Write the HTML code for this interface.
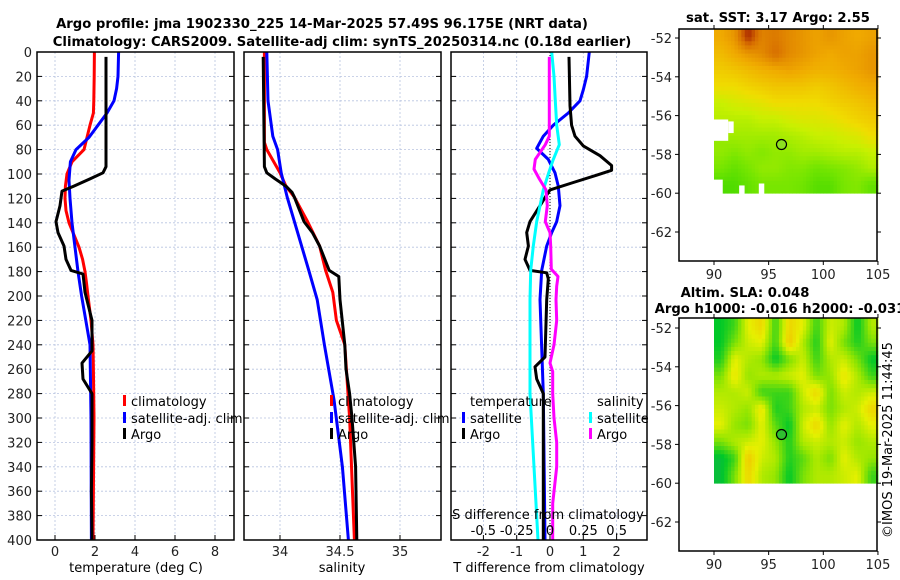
<!DOCTYPE html>
<html><head><meta charset="utf-8">
<style>
html,body{margin:0;padding:0;background:#fff;}
svg{display:block;font-family:"DejaVu Sans","Liberation Sans",sans-serif;}
</style></head>
<body>
<svg id="fig" width="900" height="580" viewBox="0 0 900 580" xmlns="http://www.w3.org/2000/svg">
<text x="322" y="28" text-anchor="middle" font-size="13.2" font-weight="bold">Argo profile: jma 1902330_225 14-Mar-2025 57.49S 96.175E (NRT data)</text>
<text x="342" y="46" text-anchor="middle" font-size="13.2" font-weight="bold">Climatology: CARS2009. Satellite-adj clim: synTS_20250314.nc (0.18d earlier)</text>
<text x="778" y="22" text-anchor="middle" font-size="13.2" font-weight="bold">sat. SST: 3.17 Argo: 2.55</text>
<text x="745" y="297" text-anchor="middle" font-size="13.2" font-weight="bold">Altim. SLA: 0.048</text>
<text x="780" y="313" text-anchor="middle" font-size="13.2" font-weight="bold">Argo h1000: -0.016 h2000: -0.031</text>
<text transform="translate(892,440) rotate(-90)" text-anchor="middle" font-size="13">©IMOS 19-Mar-2025 11:44:45</text>
<g id="plots"></g>
</svg>
<script>
// ---------- data ----------
const depthTicks = [0,20,40,60,80,100,120,140,160,180,200,220,240,260,280,300,320,340,360,380,400];
const tempTicks = [0,2,4,6,8];
const salTicks = [34,34.5,35];
const tdiffTicks = [-2,-1,0,1,2];
const sdiffTicks = [-0.5,-0.25,0,0.25,0.5];
const sdiffTickLabels = ["-0.5","-0.25","0","0.25","0.5"];

const climTDepth = [0,20,40,50,60,70,80,90,100,110,120,130,140,150,160,170,180,190,200,220,240,260,300,340,400];
const climTVal   = [1.97,1.96,1.94,1.92,1.75,1.6,1.45,0.85,0.6,0.52,0.5,0.55,0.7,0.95,1.2,1.38,1.5,1.58,1.65,1.8,1.9,1.92,1.95,1.93,1.9];
const satTDepth = [0,20,30,40,50,60,70,80,90,105,120,140,160,180,200,240,300,400];
const satTVal   = [3.18,3.15,3.08,2.95,2.6,2.15,1.7,1.05,0.77,0.7,0.75,0.85,1.0,1.15,1.33,1.75,1.8,1.82];
const argoTDepth = [4,40,80,94,99,104,110,114,126,139,148,159,170,179,182,197,220,245,255,268,280,320,360,400];
const argoTVal   = [2.55,2.55,2.55,2.55,2.4,1.75,0.93,0.35,0.25,0.05,0.15,0.45,0.55,0.8,1.4,1.5,1.85,1.85,1.35,1.4,1.85,1.85,1.82,1.85];

const climSDepth = [0,40,74,80,99,110,119,139,159,179,197,220,240,300,400];
const climSVal   = [33.87,33.87,33.87,33.89,34.0,34.05,34.12,34.23,34.33,34.38,34.44,34.47,34.54,34.58,34.62];
const satSDepth = [0,40,69,80,99,119,139,179,203,240,285,340,400];
const satSVal   = [33.89,33.9,33.94,33.98,34.01,34.06,34.12,34.24,34.31,34.37,34.45,34.52,34.57];
const argoSDepth = [4,94,99,104,110,115,119,139,148,159,179,184,203,240,260,280,300,340,400];
const argoSVal   = [33.86,33.87,33.89,33.96,34.05,34.1,34.12,34.2,34.27,34.33,34.41,34.49,34.5,34.54,34.55,34.58,34.6,34.63,34.64];

const satTdDepth = [0,20,31,40,50,60,69,79,88,99,110,126,139,148,159,179,203,280,400];
const satTdVal   = [1.18,1.1,1.0,0.9,0.55,0.1,-0.2,-0.4,-0.05,0.15,0.25,0.3,0.2,0.05,-0.1,-0.25,-0.3,-0.2,-0.15];
const argoTdDepth = [4,44,60,69,77,85,93,97,101,107,113,118,126,139,148,159,170,179,181,186,203,250,258,268,280,340,400];
const argoTdVal   = [0.57,0.6,0.65,0.75,1.0,1.5,1.85,1.85,1.4,0.7,0.0,-0.12,-0.3,-0.6,-0.7,-0.65,-0.75,-0.6,-0.1,-0.05,-0.1,-0.15,-0.45,-0.4,-0.2,-0.2,-0.2];
const satSdDepth = [0,20,40,60,76,88,99,113,139,159,179,203,280,340,400];
const satSdVal   = [0.013,0.03,0.04,0.05,0.07,0.025,-0.01,-0.05,-0.1,-0.125,-0.145,-0.15,-0.15,-0.12,-0.09];
const argoSdDepth = [4,69,76,88,96,104,113,126,139,148,159,178,184,192,203,220,240,255,262,280,300,320,340,370,400];
const argoSdVal   = [-0.005,-0.005,-0.035,-0.11,-0.12,-0.08,-0.03,-0.02,-0.035,0.0,0.005,0.01,0.06,0.05,0.045,0.05,0.03,0.0,0.02,0.02,0.03,0.05,0.05,0.02,0.02];

const latTicks = [-52,-54,-56,-58,-60,-62];
const lonTicks = [90,95,100,105];
const argoLon = 96.175, argoLat = -57.49;
const sstGrid = [
 [0.7,0.75,0.95,0.8,0.82,0.78,0.75,0.72,0.75,0.72,0.7,0.72],
 [0.65,0.7,0.75,0.78,0.85,0.78,0.75,0.72,0.7,0.72,0.72,0.75],
 [0.6,0.62,0.65,0.68,0.7,0.72,0.7,0.68,0.68,0.7,0.72,0.75],
 [0.55,0.55,0.58,0.6,0.62,0.62,0.62,0.6,0.62,0.65,0.68,0.7],
 [0.45,0.48,0.5,0.52,0.55,0.55,0.55,0.55,0.58,0.6,0.62,0.65],
 [0.42,0.42,0.42,0.45,0.45,0.48,0.5,0.5,0.52,0.55,0.58,0.6],
 [null,0.38,0.38,0.38,0.38,0.4,0.42,0.45,0.45,0.48,0.5,0.55],
 [0.35,0.32,0.35,0.32,0.35,0.35,0.38,0.38,0.4,0.42,0.42,0.45],
 [0.3,0.25,0.3,0.35,0.35,0.32,0.32,0.28,0.3,0.32,0.35,0.4],
 [0.2,0.2,0.25,0.3,0.3,0.3,0.28,0.22,0.22,0.3,0.32,0.25]];
const slaGrid = [
 [0.2,0.3,0.6,0.7,0.3,0.7,0.6,0.3,0.55,0.5,0.2,0.5],
 [0.2,0.4,0.55,0.6,0.3,0.75,0.5,0.25,0.6,0.4,0.25,0.4],
 [0.25,0.6,0.5,0.45,0.2,0.4,0.55,0.3,0.5,0.55,0.4,0.2],
 [0.4,0.65,0.45,0.5,0.5,0.55,0.6,0.4,0.45,0.65,0.5,0.3],
 [0.5,0.5,0.55,0.3,0.3,0.3,0.55,0.7,0.4,0.55,0.5,0.55],
 [0.55,0.5,0.45,0.65,0.25,0.3,0.5,0.55,0.4,0.5,0.55,0.7],
 [0.6,0.45,0.4,0.6,0.35,0.2,0.55,0.7,0.45,0.6,0.5,0.6],
 [0.4,0.5,0.55,0.6,0.45,0.25,0.5,0.55,0.5,0.55,0.45,0.5],
 [0.15,0.3,0.75,0.55,0.5,0.25,0.35,0.5,0.4,0.6,0.5,0.45],
 [0.15,0.4,0.7,0.5,0.45,0.2,0.4,0.5,0.5,0.55,0.6,0.3]];
// missing-data boxes in SST map: [lonMin, lonMax, latTop, latBottom]
const sstMissing = [[90,91.3,-56.2,-57.3],[91.3,91.8,-56.3,-56.9],[90,90.8,-59.3,-60.1],[92.3,92.8,-59.6,-60.1],[94.1,94.6,-59.5,-60.1]];

// ---------- drawing ----------
const NS="http://www.w3.org/2000/svg";
const root=document.getElementById('plots');
function mk(tag,attrs,parent){const e=document.createElementNS(NS,tag);for(const k in attrs)e.setAttribute(k,attrs[k]);(parent||root).appendChild(e);return e;}
function txt(s,attrs,parent){const e=mk('text',attrs,parent);e.textContent=s;return e;}

const TOP=52,BOT=540;
const yD=d=>TOP+(BOT-TOP)*d/400;

function panel(name,x0,x1,xs,ticks,labels,showY){
  const g=mk('g',{});
  
  
  depthTicks.forEach(d=>{
    const l=mk('line',{x1:x0,x2:x1,y1:yD(d),y2:yD(d),stroke:'#b8c4e0','stroke-width':0.8,'stroke-dasharray':'2,2'},g);
    
    
    mk('line',{x1:x0,x2:x0+5,y1:yD(d),y2:yD(d),stroke:'#000'},g);
    mk('line',{x1:x1-5,x2:x1,y1:yD(d),y2:yD(d),stroke:'#000'},g);
    if(showY){const t=txt(String(d),{x:x0-5,y:yD(d)+5,'text-anchor':'end','font-size':13,fill:'#222'},g);
      
      }
  });
  ticks.forEach((v,i)=>{
    const l=mk('line',{x1:xs(v),x2:xs(v),y1:TOP,y2:BOT,stroke:'#b8c4e0','stroke-width':0.8,'stroke-dasharray':'2,2'},g);
    
    
    mk('line',{x1:xs(v),x2:xs(v),y1:BOT,y2:BOT-5,stroke:'#000'},g);
    if(labels){const t=txt(labels[i],{x:xs(v),y:556,'text-anchor':'middle','font-size':13,fill:'#222'},g);
      
      }
  });
  return g;
}
function line(g,name,ds,vs,xs,color){
  const p=ds.map((d,i)=>(i?'L':'M')+xs(vs[i]).toFixed(1)+','+yD(d).toFixed(1)).join(' ');
  const e=mk('path',{d:p,fill:'none',stroke:color,'stroke-width':3,'stroke-linejoin':'round'},g);
  
  
}
function frame(g,x0,x1){const r=mk('rect',{x:x0,y:TOP,width:x1-x0,height:BOT-TOP,fill:'none',stroke:'#000','stroke-width':1.5},g);
  
  }
function legendEntry(g,x,y,color,label){
  const e=mk('g',{},g);
  
  
  mk('rect',{x:x,y:y-10,width:3,height:11,fill:color},e);
  txt(label,{x:x+8,y:y+1,'font-size':13},e);
}

// Panel 1: temperature
const xT=v=>55+20*v;
const g1=panel('temperature-panel',37,234,xT,tempTicks,tempTicks.map(String),true);
line(g1,'climatology-temperature-line',climTDepth,climTVal,xT,'#f00');
line(g1,'satellite-temperature-line',satTDepth,satTVal,xT,'#00f');
line(g1,'argo-temperature-line',argoTDepth,argoTVal,xT,'#000');
frame(g1,37,234);
legendEntry(g1,123,405,'#f00','climatology');
legendEntry(g1,123,422,'#00f','satellite-adj. clim');
legendEntry(g1,123,438,'#000','Argo');
txt('temperature (deg C)',{x:136,y:572,'text-anchor':'middle','font-size':13},g1);

// Panel 2: salinity
const xS=v=>280+120*(v-34);
const g2=panel('salinity-panel',244,441,xS,salTicks,salTicks.map(String),false);
line(g2,'climatology-salinity-line',climSDepth,climSVal,xS,'#f00');
line(g2,'satellite-salinity-line',satSDepth,satSVal,xS,'#00f');
line(g2,'argo-salinity-line',argoSDepth,argoSVal,xS,'#000');
frame(g2,244,441);
legendEntry(g2,330,405,'#f00','climatology');
legendEntry(g2,330,422,'#00f','satellite-adj. clim');
legendEntry(g2,330,438,'#000','Argo');
txt('salinity',{x:342,y:572,'text-anchor':'middle','font-size':13},g2);

// Panel 3: differences
const xTd=v=>550+33.3*v;
const xSd=v=>550+133.3*v;
const g3=panel('difference-panel',451,647,xTd,tdiffTicks,tdiffTicks.map(String),false);
mk('line',{x1:550,x2:550,y1:TOP,y2:BOT,stroke:'#000','stroke-width':1,'stroke-dasharray':'1,2'},g3);
line(g3,'satellite-tdiff-line',satTdDepth,satTdVal,xTd,'#00f');
line(g3,'argo-tdiff-line',argoTdDepth,argoTdVal,xTd,'#000');
line(g3,'satellite-sdiff-line',satSdDepth,satSdVal,xSd,'#0ff');
line(g3,'argo-sdiff-line',argoSdDepth,argoSdVal,xSd,'#f0f');
frame(g3,451,647);
sdiffTicks.forEach((v,i)=>{const t=txt(sdiffTickLabels[i],{x:xSd(v),y:535,'text-anchor':'middle','font-size':13},g3);
  
  });
txt('S difference from climatology',{x:548,y:519,'text-anchor':'middle','font-size':13},g3);
txt('T difference from climatology',{x:549,y:572,'text-anchor':'middle','font-size':13},g3);
txt('temperature',{x:470,y:406,'font-size':13},g3);
legendEntry(g3,462,422,'#00f','satellite');
legendEntry(g3,462,438,'#000','Argo');
txt('salinity',{x:597,y:406,'font-size':13},g3);
legendEntry(g3,589,422,'#0ff','satellite');
legendEntry(g3,589,438,'#f0f','Argo');

// ---------- maps ----------
function lerpColor(stops,v){
  for(let i=1;i<stops.length;i++){if(v<=stops[i][0]||i===stops.length-1){const a=stops[i-1],b=stops[i];let t=(v-a[0])/(b[0]-a[0]);t=Math.max(0,Math.min(1,t));
    return 'rgb('+[1,2,3].map(k=>Math.round(a[k]+(b[k]-a[k])*t)).join(',')+')';}}
}
function sample(grid,fr,fc){
  const nr=grid.length,nc=grid[0].length;
  const r=Math.max(0,Math.min(nr-1,fr-0.5)),c=Math.max(0,Math.min(nc-1,fc-0.5));
  const r0=Math.floor(r),c0=Math.floor(c),r1=Math.min(nr-1,r0+1),c1=Math.min(nc-1,c0+1);
  const tr=r-r0,tc=c-c0;
  const g=(a,b)=>grid[a][b]===null?null:grid[a][b];
  const v00=g(r0,c0),v01=g(r0,c1),v10=g(r1,c0),v11=g(r1,c1);
  const vals=[[v00,(1-tr)*(1-tc)],[v01,(1-tr)*tc],[v10,tr*(1-tc)],[v11,tr*tc]];
  let s=0,w=0;vals.forEach(([v,k])=>{if(v!==null){s+=v*k;w+=k;}});
  return w?s/w:null;
}
const sstStops=[[0,0,200,0],[0.3,120,230,0],[0.45,200,240,0],[0.55,240,220,0],[0.7,240,170,0],[0.85,215,110,0],[1,150,10,0]];
const slaStops=[[0,30,160,110],[0.2,0,200,40],[0.45,150,230,0],[0.6,230,240,0],[0.75,240,200,0],[0.9,240,160,0]];
function drawMap(name,fTop,fBot,latScale,lat52y,grid,stops,markerColor,missing){
  const g=mk('g',{});
  
  
  const lonX=l=>714+(l-90)*10.93;
  const latY=l=>lat52y+(-52-l)*latScale;
  const x0=lonX(90),x1=878,y0=fTop,y1=latY(-60);
  const nr=grid.length,nc=grid[0].length,SUB=4;
  const cw=(x1-x0)/(nc*SUB),ch=(y1-y0)/(nr*SUB);
  for(let i=0;i<nr*SUB;i++)for(let j=0;j<nc*SUB;j++){
    const v=sample(grid,(i+0.5)/SUB,(j+0.5)/SUB);
    if(v===null)continue;
    const cell=mk('rect',{x:(x0+j*cw).toFixed(2),y:(y0+i*ch).toFixed(2),width:(cw+0.4).toFixed(2),height:(ch+0.4).toFixed(2),fill:lerpColor(stops,v)},g);
    
    
  }
  (missing||[]).forEach(m=>{
    const r=mk('rect',{x:lonX(m[0]),y:latY(m[2]),width:lonX(m[1])-lonX(m[0]),height:latY(m[3])-latY(m[2]),fill:'#fff'},g);
    
    
  });
  const fr=mk('rect',{x:679,y:fTop,width:198,height:fBot-fTop,fill:'none',stroke:'#000','stroke-width':1.5},g);
  
  
  latTicks.forEach(l=>{
    mk('line',{x1:679,x2:675,y1:latY(l),y2:latY(l),stroke:'#000'},g);
    mk('line',{x1:877,x2:881,y1:latY(l),y2:latY(l),stroke:'#000'},g);
    const t=txt(String(l),{x:672,y:latY(l)+5,'text-anchor':'end','font-size':13,fill:'#222'},g);
    
    
  });
  lonTicks.forEach(l=>{
    mk('line',{x1:lonX(l),x2:lonX(l),y1:fBot,y2:fBot+4,stroke:'#000'},g);
    mk('line',{x1:lonX(l),x2:lonX(l),y1:fTop,y2:fTop-4,stroke:'#000'},g);
    const t=txt(String(l),{x:lonX(l),y:fBot+18,'text-anchor':'middle','font-size':13,fill:'#222'},g);
    
    
  });
  const m=mk('circle',{cx:lonX(argoLon),cy:latY(argoLat),r:5,fill:markerColor,stroke:'#000','stroke-width':1.2},g);
  
  
}
drawMap('sst-map',29,261,19.4,38,sstGrid,sstStops,'#8de020',sstMissing);
drawMap('sla-map',318,551,19.4,328,slaGrid,slaStops,'#30c030',[]);
</script>
</body></html>
